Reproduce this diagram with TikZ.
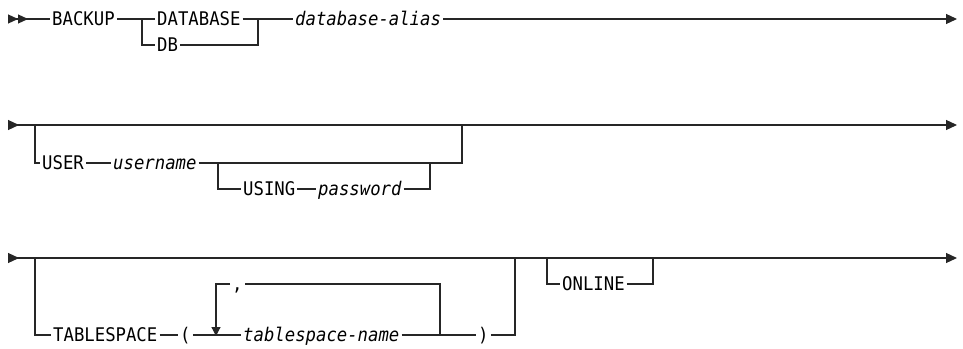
\documentclass[tikz,border=0pt]{standalone}
\usepackage{fontspec}
\setmainfont{DejaVu Sans Mono}[FakeStretch=0.92]
\usepackage{tikz}
\usetikzlibrary{arrows.meta}

\tikzset{
  rail/.style={line width=1.2pt, black!85},
  kw/.style={inner xsep=2pt, inner ysep=0pt, text height=13.6pt, text depth=0pt,
    anchor=west, font=\fontsize{18.8}{20}\selectfont},
  var/.style={kw, font=\fontsize{18.8}{20}\selectfont\itshape},
  railtip/.tip={Triangle[length=11pt, width=10pt]},
  railstart/.tip={Triangle[reversed, length=11pt, width=10pt]},
}

\begin{document}
\begin{tikzpicture}[x=1pt, y=-1pt]
            \useasboundingbox (0,0) rectangle (963,348);

            % row 1
            \coordinate (s1) at (8,19);
            \coordinate (e1) at (957,19);
            \node[kw] (backup) at (50,19) {BACKUP};
            \node[kw] (database) at (155,19) {DATABASE};
            \node[kw] (db) at (155,45) {DB};
            \node[var] (alias) at (293,19) {database-alias};
            \coordinate (b1l) at (142,19);
            \coordinate (b1r) at (258,19);

            \draw[rail, {Triangle[reversed, length=10pt, width=9pt]Triangle[reversed, length=10pt, width=9pt]}-] (s1) -- (backup.west);
            \draw[rail] (backup.east) -- (database.west);
            \draw[rail] (database.east) -- (alias.west);
            \draw[rail] (b1l) |- (db.west); % DB
            \draw[rail] (db.east) -| (b1r);
            \draw[rail, -railtip] (alias.east) -- (e1);

            % row 2
            \coordinate (s2) at (8,125);
            \coordinate (e2) at (957,125);
            \coordinate (b2l) at (35,125);
            \coordinate (b2r) at (462,125);
            \node[kw] (user) at (40,163) {USER};
            \node[var] (username) at (111,163) {username};
            \node[kw] (using) at (241,189) {USING};
            \node[var] (password) at (316,189) {password};
            \coordinate (b3l) at (218,163);
            \coordinate (b3r) at (430,163);

            \draw[rail, railstart-railtip] (s2) -- (e2);
            \draw[rail] (b2l) |- (user.west); % USER
            \draw[rail] (user.east) -- (username.west);
            \draw[rail] (username.east) -| (b2r);
            \draw[rail] (b3l) |- (using.west); % USING
            \draw[rail] (using.east) -- (password.west);
            \draw[rail] (password.east) -| (b3r);

            % row 3
            \coordinate (s3) at (8,258);
            \coordinate (e3) at (957,258);
            \coordinate (b4l) at (35,258);
            \coordinate (b4r) at (515,258);
            \node[kw] (tablespace) at (51,335) {TABLESPACE};
            \node[kw] (lpar) at (178,335) {(};
            \node[var] (tsname) at (241,335) {tablespace-name};
            \node[kw] (rpar) at (476,335) {)};
            \node[kw] (comma) at (230,284) {,};
            \coordinate (loopl) at (216,335);
            \coordinate (loopr) at (440,335);
            \coordinate (b5l) at (547,258);
            \coordinate (b5r) at (653,258);
            \node[kw] (online) at (560,284) {ONLINE};

            \draw[rail, railstart-railtip] (s3) -- (e3);
            \draw[rail] (b4l) |- (tablespace.west); % TABLESPACE
            \draw[rail] (tablespace.east) -- (lpar.west);
            \draw[rail] (lpar.east) -- (tsname.west);
            \draw[rail] (tsname.east) -- (rpar.west);
            \draw[rail] (rpar.east) -| (b4r);
            \draw[rail] (loopr) |- (comma.east); % repeat
            \draw[rail, -{Triangle[length=9pt, width=9pt]}] (comma.west) -| ([yshift=-1pt]loopl);
            \draw[rail] (b5l) |- (online.west); % ONLINE
            \draw[rail] (online.east) -| (b5r);
        \end{tikzpicture}
\end{document}
